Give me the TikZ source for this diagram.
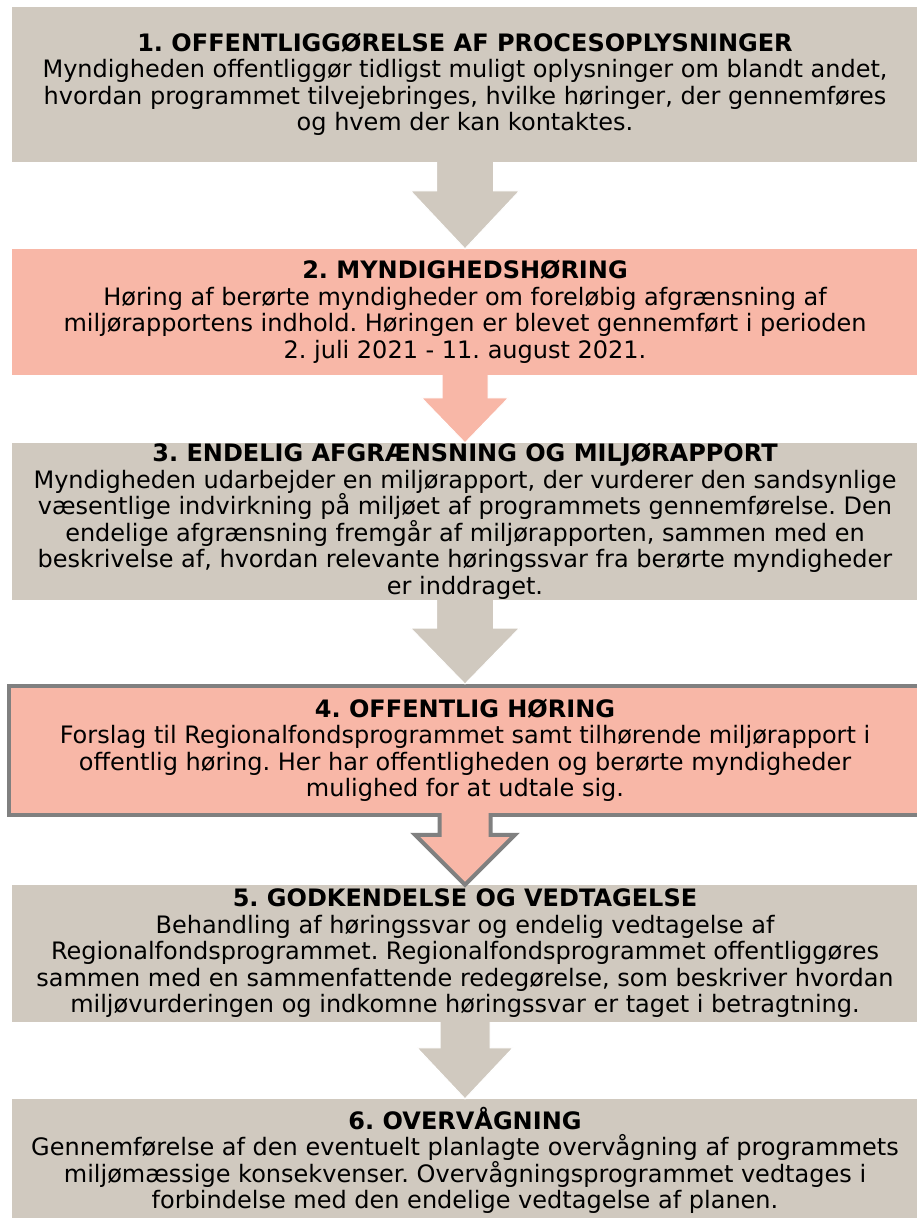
\documentclass[tikz,border=0pt]{standalone}
\usepackage{fontspec}
\setmainfont{DejaVu Sans}
\usetikzlibrary{calc}
\definecolor{boxgray}{RGB}{208,201,191}
\definecolor{boxrose}{RGB}{248,183,167}
\definecolor{rimgray}{RGB}{128,128,128}
\tikzset{
  phase/.style={fill=boxgray, minimum width=906, minimum height=#1, inner sep=0pt,
    align=center, font=\fontsize{24}{26.5}\selectfont\frenchspacing},
  rosephase/.style={phase=#1, fill=boxrose},
  rimphase/.style={rosephase=#1, draw=rimgray, line width=4pt, minimum width=912},
  grayarrow/.style={fill=boxgray, draw=white, line width=1pt},
  rosearrow/.style={fill=boxrose, draw=white, line width=1pt},
  rimarrow/.style={fill=boxrose, draw=rimgray, line width=4pt}
}
% blokpil: stil, fra, til, halv skaft, halv spids, spidslængde, overlap
\newcommand{\blockarrow}[7][]{%
  \draw[#1] ($(#2.south)+(-#4,#7)$) -- ($(#3.north)+(-#4,#6)$) -- ($(#3.north)+(-#5,#6)$)
    -- (#3.north) -- ($(#3.north)+(#5,#6)$) -- ($(#3.north)+(#4,#6)$) -- ($(#2.south)+(#4,#7)$);}
\begin{document}
\begin{tikzpicture}[x=1pt, y=1pt]
\useasboundingbox (0,0) rectangle (916,-1218);
% faser
\node[phase=155] (proces) at (465,-84.5) {\textbf{1. OFFENTLIGGØRELSE AF PROCESOPLYSNINGER}\\
  Myndigheden offentliggør tidligst muligt oplysninger om blandt andet,\\
  hvordan programmet tilvejebringes, hvilke høringer, der gennemføres\\
  og hvem der kan kontaktes.};
\node[rosephase=126] (myndig) at (465,-312) {\textbf{2. MYNDIGHEDSHØRING}\\
  Høring af berørte myndigheder om foreløbig afgrænsning af\\
  miljørapportens indhold. Høringen er blevet gennemført i perioden\\
  2. juli 2021 - 11. august 2021.};
\node[phase=157] (afgraens) at (465,-521.5) {\textbf{3. ENDELIG AFGRÆNSNING OG MILJØRAPPORT}\\
  Myndigheden udarbejder en miljørapport, der vurderer den sandsynlige\\
  væsentlige indvirkning på miljøet af programmets gennemførelse. Den\\
  endelige afgrænsning fremgår af miljørapporten, sammen med en\\
  beskrivelse af, hvordan relevante høringssvar fra berørte myndigheder\\
  er inddraget.};
\node[rimphase=129] (offentlig) at (465,-750.5) {\textbf{4. OFFENTLIG HØRING}\\
  Forslag til Regionalfondsprogrammet samt tilhørende miljørapport i\\
  offentlig høring. Her har offentligheden og berørte myndigheder\\
  mulighed for at udtale sig.};
\node[phase=137] (godkend) at (465,-953.5) {\textbf{5. GODKENDELSE OG VEDTAGELSE}\\
  Behandling af høringssvar og endelig vedtagelse af\\
  Regionalfondsprogrammet. Regionalfondsprogrammet offentliggøres\\
  sammen med en sammenfattende redegørelse, som beskriver hvordan\\
  miljøvurderingen og indkomne høringssvar er taget i betragtning.};
\node[phase=123] (overvaag) at (465,-1160.5) {\textbf{6. OVERVÅGNING}\\
  Gennemførelse af den eventuelt planlagte overvågning af programmets\\
  miljømæssige konsekvenser. Overvågningsprogrammet vedtages i\\
  forbindelse med den endelige vedtagelse af planen.};
% pile
\blockarrow[grayarrow]{proces}{myndig}{28.5}{54.5}{58}{0}
\blockarrow[rosearrow]{myndig}{afgraens}{23}{43.5}{45}{0}
\blockarrow[grayarrow]{afgraens}{offentlig}{28.5}{54.5}{56}{0}
\blockarrow[rimarrow]{offentlig}{godkend}{25.5}{50}{50}{4}
\blockarrow[grayarrow]{godkend}{overvaag}{25}{48}{51}{0}
\end{tikzpicture}
\end{document}
